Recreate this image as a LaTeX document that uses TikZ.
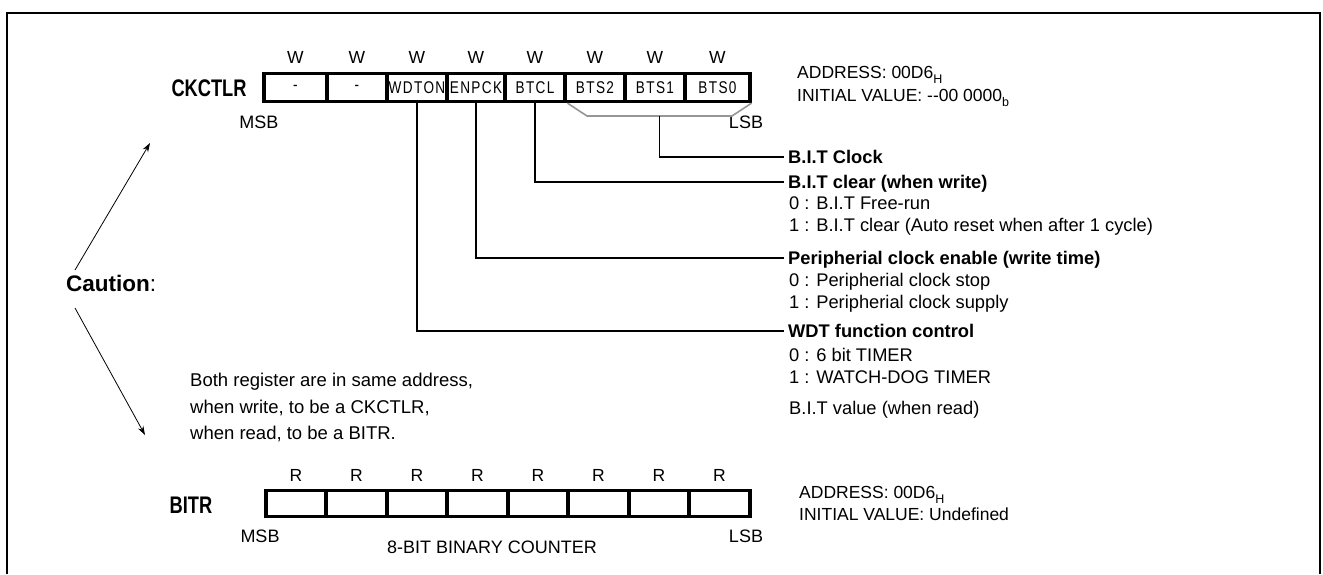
\documentclass[tikz,border=0pt]{standalone}
\usepackage{fontspec}
\setmainfont{Liberation Sans}
\newfontfamily\condfont[FakeStretch=0.76]{Liberation Sans}
\newfontfamily\cellfont[FakeStretch=0.8,LetterSpace=8]{Liberation Sans}
\usetikzlibrary{arrows.meta,calc}
\definecolor{brkgray}{RGB}{150,150,150}
\newcommand{\subs}[1]{\raisebox{-0.3em}{\fontsize{12.5}{12.5}\selectfont #1}}
\begin{document}
\begin{tikzpicture}[x=1pt,y=-1pt,
  regname/.style={font=\condfont\bfseries\fontsize{24}{24}\selectfont, inner sep=0pt, text height=17.2pt, text depth=0pt},
  cellu/.style={draw, line width=3.2pt, minimum height=28pt, inner sep=0pt, font=\cellfont\fontsize{17}{17}\selectfont},
  celll/.style={draw, line width=3.2pt, minimum height=26pt, inner sep=0pt},
  acc/.style={font=\fontsize{17.5}{17.5}\selectfont, inner sep=0pt, text height=12.5pt, text depth=0pt},
  msb/.style={font=\fontsize{18}{18}\selectfont, inner sep=0pt, text height=12.9pt, text depth=0pt},
  title/.style={font=\bfseries\fontsize{18.3}{18.3}\selectfont, anchor=west, inner xsep=4pt, inner ysep=0pt, text height=13.1pt, text depth=0pt},
  body/.style={font=\fontsize{18.3}{18.3}\selectfont, anchor=base west, inner sep=0pt},
  addr/.style={font=\fontsize{17.5}{17.5}\selectfont, anchor=base west, inner sep=0pt},
  note/.style={font=\fontsize{18.5}{18.5}\selectfont, anchor=base west, inner sep=0pt},
  conn/.style={line width=1.6pt},
  brk/.style={line width=1.6pt, brkgray},
  arr/.style={line width=0.8pt, -{Stealth[length=9pt,width=6pt]}}
]
\useasboundingbox (0,0) rectangle (1323,574);
% frame
\draw[line width=1.6pt] (7,574) -- (7,13) -- (1320,13) -- (1320,574);

% CKCTLR register
\node[regname] (ckname) at (209,88) {CKCTLR};
\node[cellu, minimum width=63pt] (c1) at (295.5,87.5) {-};
\node[cellu, minimum width=60pt] (c2) at (357,87.5) {-};
\node[cellu, minimum width=60pt] (c3) at (417,87.5) {WDTON};
\node[cellu, minimum width=58pt] (c4) at (476,87.5) {ENPCK};
\node[cellu, minimum width=60pt] (c5) at (535,87.5) {BTCL};
\node[cellu, minimum width=60pt] (c6) at (595,87.5) {BTS2};
\node[cellu, minimum width=60pt] (c7) at (655,87.5) {BTS1};
\node[cellu, minimum width=65pt] (c8) at (717.5,87.5) {BTS0};
\foreach \n/\x in {w1/295.5,w2/357,w3/417,w4/476,w5/535,w6/595,w7/655,w8/717.5}
  \node[acc] (\n) at (\x,57) {W};
\node[msb] (msbu) at (259,122) {MSB};
\node[msb] (lsbu) at (746,122) {LSB};

\node[addr] (addru) at (797,78) {ADDRESS: 00D6\subs{H}};
\node[addr] (initu) at (797,101) {INITIAL VALUE: -{}-00 0000\subs{b}};

% descriptions
\node[title] (t1) at (784,157) {B.I.T Clock};
\node[title] (t2) at (784,182) {B.I.T clear (when write)};
\node[body] (b21) at (789,209.4) {0 : B.I.T Free-run};
\node[body] (b22) at (789,231.4) {1 : B.I.T clear (Auto reset when after 1 cycle)};
\node[title] (t3) at (784,258) {Peripherial clock enable (write time)};
\node[body] (b31) at (789,286.4) {0 : Peripherial clock stop};
\node[body] (b32) at (789,308.4) {1 : Peripherial clock supply};
\node[title] (t4) at (784,331) {WDT function control};
\node[body] (b41) at (789,361.4) {0 : 6 bit TIMER};
\node[body] (b42) at (789,383.4) {1 : WATCH-DOG TIMER};
\node[body] (b5) at (789,414.4) {B.I.T value (when read)};

% connectors
\coordinate (bk2) at (587,116);
\coordinate (bk3) at (732,116);
\coordinate (bkm) at (659.5,116);
\draw[brk] ($(c6.south west)+(4,0)$) -- (bk2) -- (bk3) -- (c8.south east);
\draw[conn] (bkm) |- (t1.west);
\draw[conn] (c5.south) |- (t2.west);
\draw[conn] (c4.south) |- (t3.west);
\draw[conn] (c3.south) |- (t4.west);

% caution
\node[font=\fontsize{22.5}{22.5}\selectfont, anchor=base west, inner sep=0pt] (caution) at (66,291) {\textbf{Caution}:};
\coordinate (a1s) at (75,270);
\coordinate (a1e) at (150,143);
\coordinate (a2s) at (75,308);
\coordinate (a2e) at (145,435);
\draw[arr] (a1s) -- (a1e);
\draw[arr] (a2s) -- (a2e);

\node[note] (n1) at (190,386) {Both register are in same address,};
\node[note] (n2) at (190,413) {when write, to be a CKCTLR,};
\node[note] (n3) at (190,439) {when read, to be a BITR.};

% BITR register
\node[regname] (bitrname) at (191,505) {BITR};
\node[celll, minimum width=60pt] (r1) at (296,503.5) {};
\node[celll, minimum width=61pt] (r2) at (356.5,503.5) {};
\node[celll, minimum width=60pt] (r3) at (417,503.5) {};
\node[celll, minimum width=61pt] (r4) at (477.5,503.5) {};
\node[celll, minimum width=60pt] (r5) at (538,503.5) {};
\node[celll, minimum width=61pt] (r6) at (598.5,503.5) {};
\node[celll, minimum width=60pt] (r7) at (659,503.5) {};
\node[celll, minimum width=61pt] (r8) at (719.5,503.5) {};
\foreach \n/\x in {q1/296,q2/356.5,q3/417,q4/477.5,q5/538,q6/598.5,q7/659,q8/719.5}
  \node[acc] (\n) at (\x,475) {R};
\node[msb] (msbl) at (260,536) {MSB};
\node[msb] (lsbl) at (746,536) {LSB};
\node[msb, anchor=west] (cnt) at (387,547) {8-BIT BINARY COUNTER};
\node[addr] (addrl) at (799,498) {ADDRESS: 00D6\subs{H}};
\node[addr] (initl) at (799,520) {INITIAL VALUE: Undefined};
\end{tikzpicture}
\end{document}
